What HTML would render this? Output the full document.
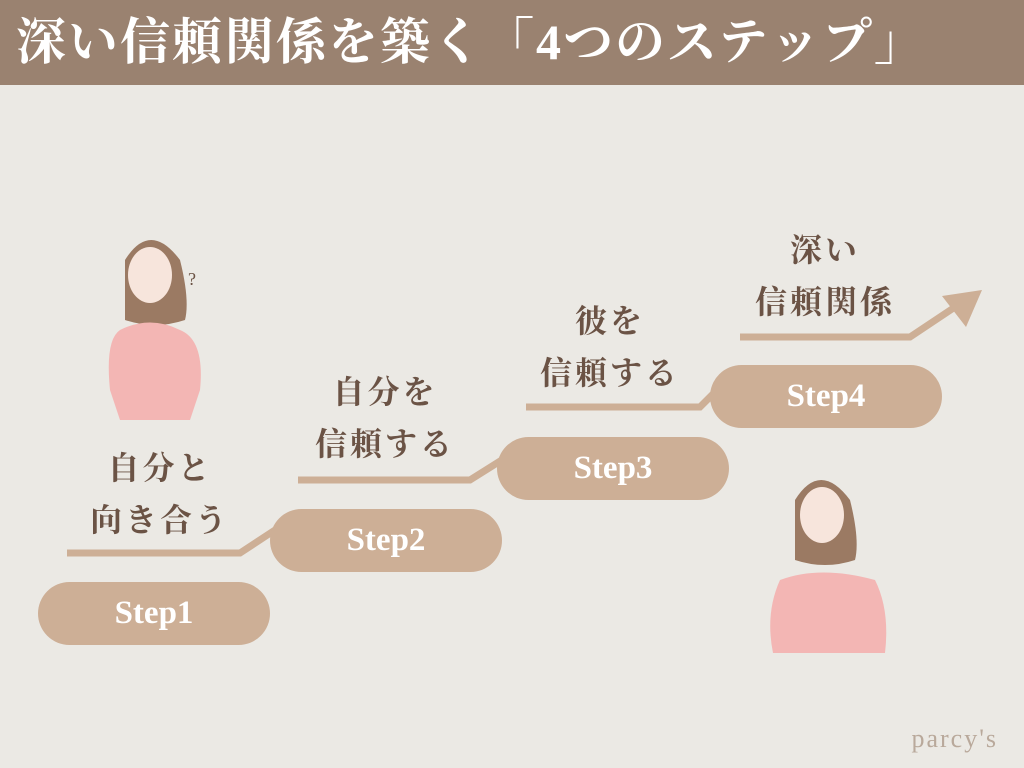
<!DOCTYPE html>
<html><head><meta charset="utf-8"><style>
body{margin:0;width:1024px;height:768px;background:#ebe9e4;position:relative;overflow:hidden;font-family:"Liberation Serif","Noto Serif CJK SC",serif}
.hd{position:absolute;left:0;top:0;width:1024px;height:85px;background:#9a8270;color:#fff;font-size:50px;line-height:85px;padding-left:16px;font-weight:bold;letter-spacing:2px;box-sizing:border-box;white-space:nowrap}
.pill{position:absolute;width:232px;height:63px;border-radius:32px;background:#cdaf96;color:#fff;font-size:33px;font-weight:bold;text-align:center;line-height:63px}
.lb{position:absolute;color:#6b5345;font-size:32px;font-weight:bold;text-align:center;line-height:52px;letter-spacing:3px}
.wm{position:absolute;right:26px;bottom:14px;color:#b9a99b;font-size:26px;letter-spacing:2px}
</style></head><body>
<div class="hd">深い信頼関係を築く「4つのステップ」</div>
<svg width="1024" height="768" style="position:absolute;left:0;top:0">
<g stroke="#cdaf96" stroke-width="7" fill="none">
<polyline points="67,553 240,553 275,530"/>
<polyline points="298,480 470,480 505,458"/>
<polyline points="526,407 700,407 715,392"/>
<polyline points="740,337 910,337 955,307"/>
</g>
<polygon points="982,290 942,296 966,327" fill="#cdaf96"/>
<g>
<path d="M125 260 q25 -40 55 0 q10 40 5 60 q-30 10 -60 0 z" fill="#9b7a63"/>
<ellipse cx="150" cy="275" rx="22" ry="28" fill="#f7e5dc"/>
<path d="M120 330 q30 -15 60 0 q25 10 20 60 l-10 30 h-70 l-10 -30 q-5 -50 10 -60z" fill="#f3b6b4"/>
<text x="188" y="285" font-size="18" fill="#6b5345">?</text>
</g>
<g>
<path d="M795 500 q25 -40 55 0 q10 40 5 60 q-30 10 -60 0 z" fill="#9b7a63"/>
<ellipse cx="822" cy="515" rx="22" ry="28" fill="#f7e5dc"/>
<path d="M780 580 q40 -15 95 0 q15 30 10 73 h-112 q-8 -40 7 -73z" fill="#f3b6b4"/>
</g>
</svg>
<div class="pill" style="left:38px;top:582px">Step1</div>
<div class="pill" style="left:270px;top:509px">Step2</div>
<div class="pill" style="left:497px;top:437px">Step3</div>
<div class="pill" style="left:710px;top:365px">Step4</div>
<div class="lb" style="left:60px;top:442px;width:200px">自分と<br>向き合う</div>
<div class="lb" style="left:285px;top:366px;width:200px">自分を<br>信頼する</div>
<div class="lb" style="left:510px;top:295px;width:200px">彼を<br>信頼する</div>
<div class="lb" style="left:725px;top:224px;width:200px">深い<br>信頼関係</div>
<div class="wm">parcy's</div>
</body></html>
